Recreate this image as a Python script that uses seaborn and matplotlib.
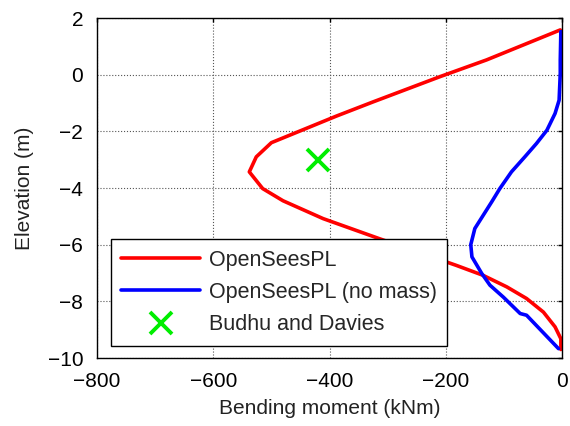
import numpy as np
import pandas as pd
import seaborn as sns
import matplotlib
matplotlib.use("Agg")
import matplotlib.pyplot as plt

# Data
red_moment = [-3, -130, -210, -325, -388, -500, -526, -538, -515, -480, -411, -314, -245, -182, -136, -95, -61, -32, -12, -2, -2]
red_elev = [1.58, 0.52, -0.07, -0.96, -1.46, -2.4, -2.9, -3.43, -4.02, -4.45, -5.08, -5.79, -6.28, -6.73, -7.08, -7.49, -7.9, -8.38, -8.9, -9.32, -9.7]

blue_moment = [-2, -3, -3, -5, -12, -26, -44, -64, -87, -107, -121, -150, -157, -155, -138, -124, -101, -72, -61, -6]
blue_elev = [1.52, 0.52, 0.05, -0.9, -1.37, -1.96, -2.43, -2.9, -3.43, -4.02, -4.49, -5.43, -6.0, -6.43, -7.02, -7.43, -7.85, -8.43, -8.49, -9.67]

bd_moment = [-420]
bd_elev = [-3.0]

labels = ["OpenSeesPL", "OpenSeesPL (no mass)", "Budhu and Davies"]
xticks = [-800, -600, -400, -200, 0]
yticks = [2, 0, -2, -4, -6, -8, -10]

sns.set_style("white")
plt.rcParams['font.family'] = ['Liberation Sans', 'DejaVu Sans']
FS = 15
LFS = 15.5

fig = plt.figure(figsize=(5.7, 4.26), dpi=100)
ax = fig.add_axes([0.1702, 0.1596, 0.8158, 0.7981])

df_red = pd.DataFrame({"m": red_moment, "z": red_elev})
df_blue = pd.DataFrame({"m": blue_moment, "z": blue_elev})
df_bd = pd.DataFrame({"m": bd_moment, "z": bd_elev})

sns.lineplot(data=df_red, x="m", y="z", sort=False, estimator=None, color="#ff0000",
             lw=2.6, ax=ax, label=labels[0])
sns.lineplot(data=df_blue, x="m", y="z", sort=False, estimator=None, color="#0000ff",
             lw=2.6, ax=ax, label=labels[1])
ax.plot(df_bd["m"], df_bd["z"], linestyle="none", marker="x", color="#00ee00",
        markersize=16, markeredgewidth=2.8, label=labels[2])

ax.set_xlim(-800, 0)
ax.set_ylim(-10, 2)
ax.set_xticks(xticks)
ax.set_yticks(yticks)
ax.grid(True, linestyle=":", color="#555555", linewidth=0.8)
for s in ax.spines.values():
    s.set_visible(True)
    s.set_color("black")
    s.set_linewidth(1.0)
ax.tick_params(direction="in", length=3, width=1, top=True, right=True,
               labelsize=FS, pad=10, colors="black")
ax.set_xlabel("Bending moment (kNm)", fontsize=FS, labelpad=6, color="#222222")
ax.set_ylabel("Elevation (m)", fontsize=FS, labelpad=10, color="#222222")

leg = ax.legend(loc="lower left", bbox_to_anchor=(0.0295, 0.036), borderaxespad=0,
                fontsize=LFS, frameon=True, fancybox=False, edgecolor="black",
                framealpha=1, handlelength=3.67, handletextpad=0.42, labelspacing=0.53,
                borderpad=0.48)
leg.get_frame().set_linewidth(1.0)

fig.savefig("out.png", dpi=100)
